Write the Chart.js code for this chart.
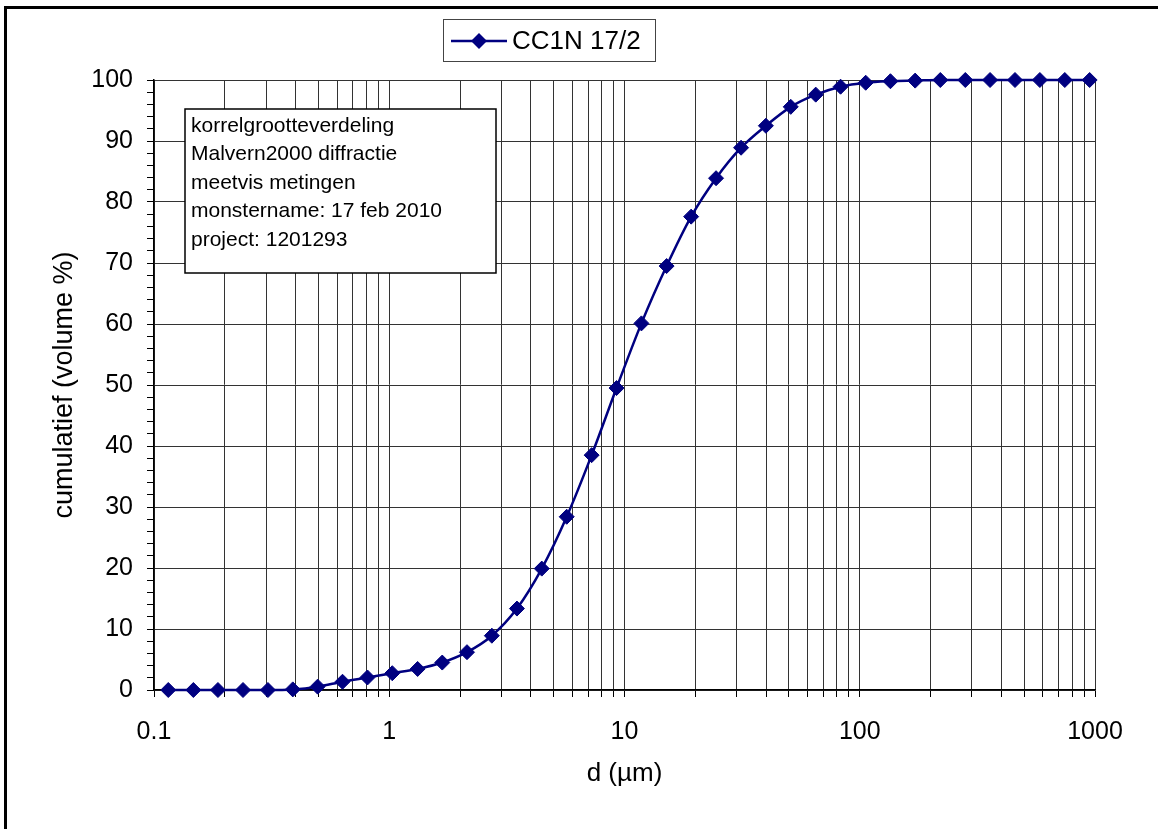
<!DOCTYPE html>
<html>
<head>
<meta charset="utf-8">
<script src="https://cdn.jsdelivr.net/npm/chart.js@4"></script>
<style>
  html, body { margin: 0; padding: 0; background: #fff; overflow: hidden; }
  #wrap { position: relative; width: 1158px; height: 829px; }
</style>
</head>
<body>
<div id="wrap"><canvas id="chart-korrel" width="1158" height="829"></canvas></div>
<script>
// korrelgrootte (um) en cumulatief volume (%)
const diameters = [0.115, 0.147, 0.187, 0.239, 0.305, 0.389, 0.496, 0.633, 0.808, 1.03,
  1.32, 1.68, 2.14, 2.73, 3.49, 4.45, 5.68, 7.25, 9.25, 11.8,
  15.1, 19.2, 24.5, 31.3, 39.9, 50.9, 65.0, 82.9, 106, 135,
  172, 220, 281, 358, 457, 583, 744, 949];
const cumulatief = [0, 0, 0, 0, 0, 0.1, 0.55, 1.35, 2.05, 2.75,
  3.45, 4.5, 6.2, 8.9, 13.35, 19.9, 28.4, 38.5, 49.5, 60.1,
  69.5, 77.6, 83.9, 88.9, 92.5, 95.6, 97.6, 98.9, 99.55, 99.8,
  99.9, 100, 100, 100, 100, 100, 100, 100];

const decades = [0.1, 1, 10, 100, 1000];
const decadeLabels = ['0.1', '1', '10', '100', '1000'];
const serieNaam = 'CC1N 17/2';
const infoLines = ['korrelgrootteverdeling', 'Malvern2000 diffractie', 'meetvis metingen',
  'monstername: 17 feb 2010', 'project: 1201293'];

const fam = "'Liberation Sans', Arial, sans-serif";
const navy = '#000080';
const gridKleur = '#333';

let xTicks = [];
for (let d of decades) {
  if (d === 1000) { xTicks.push(d); break; }
  xTicks.push(d);
  for (let k = 2; k <= 9; k++) xTicks.push(d * k);
}

let punten = [];
for (let i in diameters) {
  punten.push({x: diameters[i], y: cumulatief[i]});
}

const extras = {
  id: 'extras',
  beforeDraw(chart) {
    const ctx = chart.ctx;
    ctx.save();
    ctx.fillStyle = '#fff';
    ctx.fillRect(0, 0, chart.width, chart.height);
    ctx.fillStyle = '#000';
    ctx.fillRect(4, 6, chart.width - 4, 3);
    ctx.fillRect(4, 6, 3, chart.height - 6);
    ctx.restore();
  },
  afterDraw(chart) {
    const ctx = chart.ctx;
    ctx.save();
    // tekstvak
    ctx.fillStyle = '#fff';
    ctx.fillRect(185, 109, 311, 164);
    ctx.strokeStyle = '#000';
    ctx.lineWidth = 1.5;
    ctx.strokeRect(185, 109, 311, 164);
    ctx.fillStyle = '#000';
    ctx.font = '21px ' + fam;
    ctx.textBaseline = 'alphabetic';
    ctx.textAlign = 'left';
    infoLines.forEach((t, i) => ctx.fillText(t, 191, 132 + i * 28.4));

    // legenda
    ctx.strokeStyle = '#444';
    ctx.lineWidth = 1;
    ctx.strokeRect(443.5, 19.5, 212, 42);
    ctx.strokeStyle = navy;
    ctx.lineWidth = 2.5;
    ctx.beginPath();
    ctx.moveTo(451, 41);
    ctx.lineTo(507, 41);
    ctx.stroke();
    ctx.fillStyle = navy;
    ctx.beginPath();
    ctx.moveTo(479 - 8, 41);
    ctx.lineTo(479, 41 - 8);
    ctx.lineTo(479 + 8, 41);
    ctx.lineTo(479, 41 + 8);
    ctx.closePath();
    ctx.fill();
    ctx.fillStyle = '#000';
    ctx.font = '26px ' + fam;
    ctx.fillText(serieNaam, 512, 49);
    ctx.restore();
  }
};

const config = {
  type: 'line',
  data: {
    datasets: [{
      label: serieNaam,
      data: punten,
      borderColor: navy,
      backgroundColor: navy,
      borderWidth: 2.5,
      pointStyle: 'rectRot',
      pointRadius: 7.5,
      pointBorderWidth: 1,
      pointBackgroundColor: navy,
      pointBorderColor: navy,
      cubicInterpolationMode: 'monotone',
      clip: false
    }]
  },
  options: {
    responsive: false,
    animation: false,
    layout: {
      padding: {left: 0, right: 63, top: 80, bottom: 0}
    },
    plugins: {
      legend: {display: false},
      tooltip: {enabled: false}
    },
    scales: {
      x: {
        type: 'logarithmic',
        min: 0.1,
        max: 1000,
        afterBuildTicks: (s) => { s.ticks = xTicks.map(v => ({value: v})); },
        afterFit: (s) => { s.height = 139; },
        grid: {color: gridKleur, tickColor: '#000', tickLength: 7},
        border: {color: '#000', width: 1.5},
        ticks: {
          autoSkip: false,
          maxRotation: 0,
          padding: 20,
          color: '#000',
          font: {family: fam, size: 25},
          callback: (v) => {
            const i = decades.indexOf(v);
            return i >= 0 ? decadeLabels[i] : '';
          }
        },
        title: {
          display: true,
          text: 'd (µm)',
          color: '#000',
          font: {family: fam, size: 26},
          padding: {top: 0, bottom: 40}
        }
      },
      y: {
        min: 0,
        max: 100,
        afterFit: (s) => { s.width = 154; },
        grid: {
          color: (c) => (c.tick && c.tick.value % 10 === 0) ? gridKleur : 'rgba(0,0,0,0)',
          tickColor: '#000',
          tickLength: 7
        },
        border: {color: '#000', width: 1.5},
        ticks: {
          stepSize: 2,
          autoSkip: false,
          padding: 14,
          color: '#000',
          font: {family: fam, size: 25},
          callback: (v) => v % 10 === 0 ? String(v) : ''
        },
        title: {
          display: true,
          text: 'cumulatief (volume %)',
          color: '#000',
          font: {family: fam, size: 27},
          padding: {top: 48, bottom: 0}
        }
      }
    }
  },
  plugins: [extras]
};

const chartKorrel = new Chart(
  document.getElementById('chart-korrel'),
  config
);
</script>
</body>
</html>
